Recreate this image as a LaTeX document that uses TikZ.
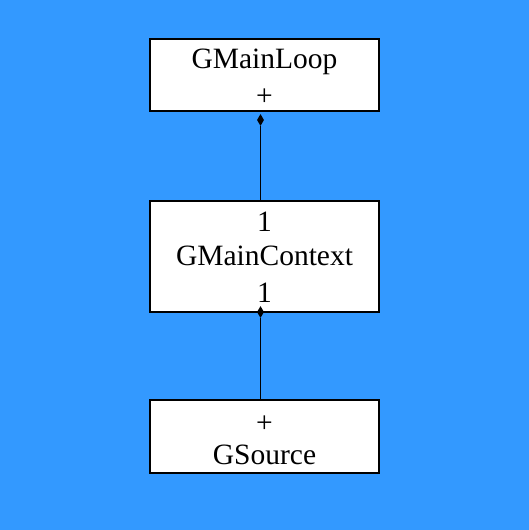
\documentclass[tikz,border=0pt]{standalone}
\usepackage{fontspec}
\setmainfont{Liberation Serif}
\usetikzlibrary{shapes.geometric}
\definecolor{bgblue}{HTML}{3399FF}
\tikzset{
  umlbox/.style={draw=black, line width=1.3pt, fill=white},
  lbl/.style={anchor=base, inner sep=0pt, font=\fontsize{29.5}{31}\selectfont},
  agg/.style={diamond, fill=black, draw=none, inner sep=0pt, minimum width=7pt, minimum height=12pt},
  conn/.style={draw=black, line width=1pt}
}
\begin{document}
\begin{tikzpicture}[x=1pt,y=1pt]
\fill[bgblue] (0,0) rectangle (529,530);
\useasboundingbox (0,0) rectangle (529,530);
% boxes
\path[umlbox] (150,491) rectangle (379,419);
\path[umlbox] (150,329) rectangle (379,218);
\path[umlbox] (150,130) rectangle (379,57);
\coordinate (b2top) at (260.5,329);
\coordinate (b3top) at (260.5,130);
% texts
\node[lbl] (t1) at (264.5,461) {GMainLoop};
\node[lbl] (t2) at (264.5,424.5) {+};
\node[lbl] (t3) at (264.5,298) {1};
\node[lbl] (t4) at (264.5,264) {GMainContext};
\node[lbl] (t5) at (264.5,227) {1};
\node[lbl] (t6) at (264.5,97) {+};
\node[lbl] (t7) at (264.5,65) {GSource};
% aggregation diamonds
\node[agg] (d1) at (260.5,410) {};
\node[agg] (d2) at (260.5,218) {};
\draw[conn] (d1.south) -- (b2top);
\draw[conn] (d2.south) -- (b3top);
\end{tikzpicture}
\end{document}
